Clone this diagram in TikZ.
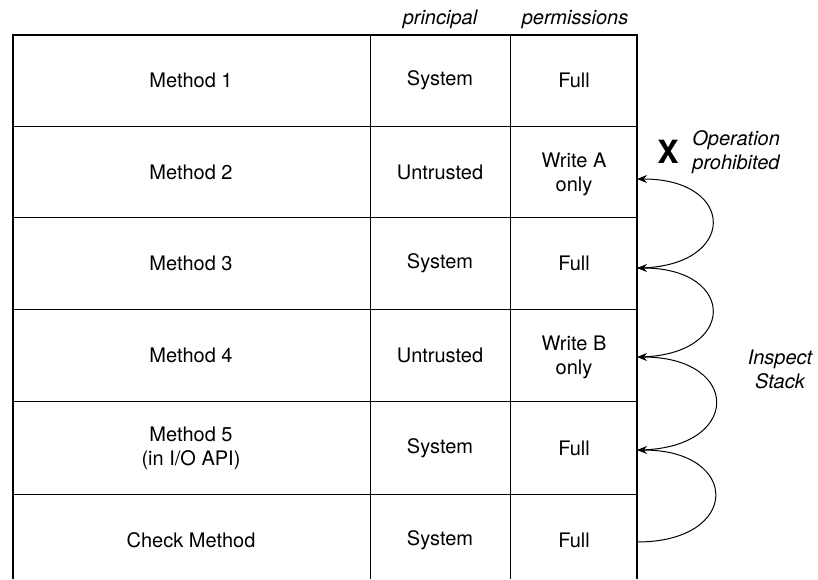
\documentclass[tikz,border=0pt]{standalone}
\usepackage{fontspec}
\setmainfont{TeX Gyre Heros}
\usetikzlibrary{arrows.meta}

\begin{document}
\begin{tikzpicture}[
    x=0.5pt, y=-0.5pt,
    cell/.style={align=center, inner sep=1pt},
    head/.style={font=\itshape, anchor=base},
    note/.style={font=\itshape, align=left, inner sep=1pt},
    frame/.style={line width=0.8pt},
    rule/.style={line width=0.5pt},
    arr/.style={-{Stealth[length=5pt, width=4pt]}, line width=0.5pt,
                out=0, in=0, looseness=2.9}
]
\useasboundingbox (0,0) rectangle (818,579);

% table lines
\draw[frame] (13,579) -- (13,35) -- (637,35) -- (637,579);
\draw[rule] (370,35) -- (370,579);
\draw[rule] (510,35) -- (510,579);
\draw[rule] (13,126) -- (637,126);
\draw[rule] (13,217) -- (637,217);
\draw[rule] (13,309) -- (637,309);
\draw[rule] (13,401) -- (637,401);
\draw[rule] (13,494) -- (637,494);

% headers
\node[head] (hprin) at (440,24) {principal};
\node[head] (hperm) at (575,24) {permissions};

% rows
\node[cell] (m1) at (191,80) {Method 1};
\node[cell] (p1) at (440,80) {System};
\node[cell] (r1) at (574,80) {Full};

\node[cell] (m2) at (191,172) {Method 2};
\node[cell] (p2) at (440,172) {Untrusted};
\node[cell] (r2) at (574,174) {Write A\\only};

\node[cell] (m3) at (191,263) {Method 3};
\node[cell] (p3) at (440,263) {System};
\node[cell] (r3) at (574,263) {Full};

\node[cell] (m4) at (191,355) {Method 4};
\node[cell] (p4) at (440,355) {Untrusted};
\node[cell] (r4) at (574,357) {Write B\\only};

\node[cell] (m5) at (191,448) {Method 5\\(in I/O API)};
\node[cell] (p5) at (440,448) {System};
\node[cell] (r5) at (574,448) {Full};

\node[cell] (m6) at (191,540) {Check Method};
\node[cell] (p6) at (440,540) {System};
\node[cell] (r6) at (574,540) {Full};

% stack walk
\coordinate (c6) at (637,542);
\coordinate (c5) at (637,450);
\coordinate (c4) at (637,357);
\coordinate (c3) at (637,268);
\coordinate (c2) at (637,179);

\draw[arr] (c6) to (c5);
\draw[arr] (c5) to (c4);
\draw[arr] (c4) to (c3);
\draw[arr] (c3) to (c2);

\node (cross) at (668,152) {\fontsize{16}{16}\selectfont\bfseries X};
\node[note, anchor=west] (prohib) at (690,152) {Operation\\prohibited};
\node[note, align=center] (inspect) at (780,369) {Inspect\\Stack};
\end{tikzpicture}
\end{document}
